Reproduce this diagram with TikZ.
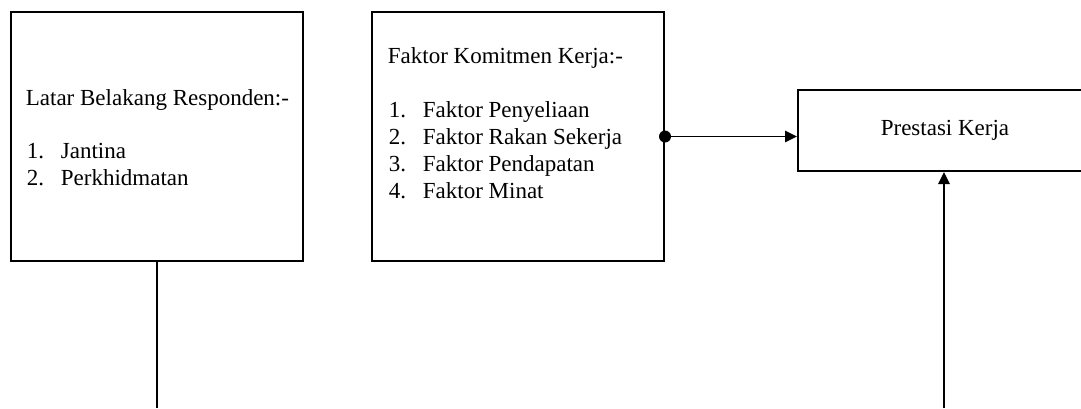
\documentclass[tikz,border=0pt]{standalone}
\usepackage{fontspec}
\setmainfont{Liberation Serif}
\usetikzlibrary{arrows.meta}

\tikzset{every picture/.style={line width=1.3pt}}
\tikzset{
  box/.style={draw, line width=1.5pt, inner sep=0pt},
  txt/.style={anchor=base west, inner sep=0pt, font=\fontsize{17.25}{20.7}\selectfont},
  link/.style={-{Triangle[length=9pt,width=8.5pt]}}
}
\newcommand{\itm}[2]{\makebox[25.5pt][l]{#1}#2}

\begin{document}
\begin{tikzpicture}[x=0.75pt,y=0.75pt,yscale=-1,xscale=1]
        \useasboundingbox (0,0) rectangle (1081,408);

        %Boxes
        \node [box, minimum width=219pt, minimum height=186.75pt] (latar) at (157,136.5) {};
        \node [box, minimum width=219pt, minimum height=186.75pt] (faktor) at (518,136.5) {};
        \node [box, minimum width=220.5pt, minimum height=60.75pt, font=\fontsize{17.25}{20.7}\selectfont] (prestasi) at (945,130.5) {Prestasi Kerja};

        % Text Node
        \draw (25,105) node [txt] (latartitle) {Latar Belakang Responden:-};
        \draw (26,158) node [txt] (latar1) {\itm{1.}{Jantina}};
        \draw (26,185) node [txt] (latar2) {\itm{2.}{Perkhidmatan}};

        % Text Node
        \draw (387,63) node [txt] (faktortitle) {Faktor Komitmen Kerja:-};
        \draw (388,117) node [txt] (faktor1) {\itm{1.}{Faktor Penyeliaan}};
        \draw (388,144) node [txt] (faktor2) {\itm{2.}{Faktor Rakan Sekerja}};
        \draw (388,171) node [txt] (faktor3) {\itm{3.}{Faktor Pendapatan}};
        \draw (388,198) node [txt] (faktor4) {\itm{4.}{Faktor Minat}};

        %Connectors
        \coordinate (latarend) at (157,408);
        \coordinate (bawah) at (944,408);
        \draw (latar.south) -- (latarend);
        \fill (faktor.east) circle (6);
        \draw [link] (faktor.east) -- (faktor.east -| prestasi.west);
        \draw [link] (bawah) -- (bawah |- prestasi.south);

\end{tikzpicture}
\end{document}
